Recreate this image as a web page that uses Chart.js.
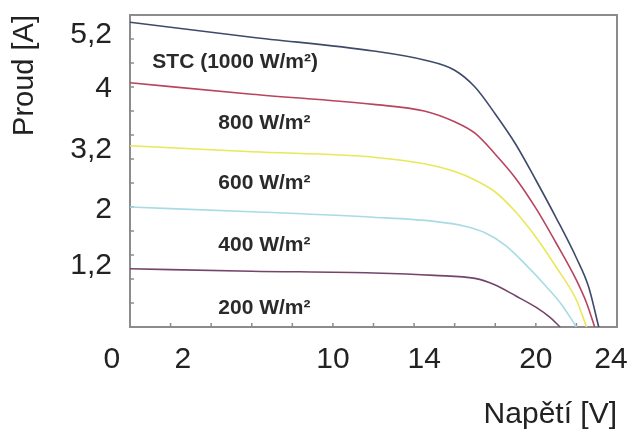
<!DOCTYPE html>
<html>
<head>
<meta charset="utf-8">
<script src="https://cdn.jsdelivr.net/npm/chart.js@4/dist/chart.umd.min.js"></script>
<style>
  html, body { margin: 0; padding: 0; background: #fff; }
  #wrap { width: 634px; height: 430px; }
</style>
</head>
<body>
<div id="wrap"><canvas id="iv-chart"></canvas></div>
<script>
// I-V křivky FV panelu při různém ozáření
const stcV = [0, 6, 12, 14.5, 16, 17, 18, 19, 20, 21, 22, 22.6, 23.1];
const stcI = [5.08, 4.83, 4.6, 4.45, 4.28, 4.0, 3.55, 3.05, 2.45, 1.82, 1.15, 0.67, 0];

const w800V = [0, 6, 12, 14.5, 16, 17, 18, 19, 20, 21, 22, 22.5, 22.9];
const w800I = [4.07, 3.88, 3.71, 3.6, 3.42, 3.23, 2.88, 2.48, 1.98, 1.4, 0.78, 0.4, 0];

const w600V = [0, 6, 12, 14.5, 16, 17, 18, 19, 20, 21, 22, 22.5];
const w600I = [3.02, 2.92, 2.83, 2.72, 2.59, 2.45, 2.25, 1.92, 1.5, 1.0, 0.45, 0];

const w400V = [0, 6, 12, 15, 16.5, 17.5, 18.5, 19.5, 20.5, 21.3, 22.0];
const w400I = [2.0, 1.92, 1.83, 1.76, 1.68, 1.57, 1.36, 1.04, 0.68, 0.36, 0];

const w200V = [0, 6, 12, 15, 17, 18, 19, 20, 20.7, 21.2];
const w200I = [0.97, 0.93, 0.9, 0.86, 0.81, 0.7, 0.52, 0.33, 0.16, 0];

const seriesNames = ['STC (1000 W/m²)', '800 W/m²', '600 W/m²', '400 W/m²', '200 W/m²'];

const xTickLabels = ['0', '2', '10', '14', '20', '24'];
const yTickLabels = ['5,2', '4', '3,2', '2', '1,2'];

// spojí napětí a proud do bodů
function toPoints(v, i) {
  return v.map((x, k) => ({ x: x, y: i[k] }));
}

const colors = ['#3e4a6a', '#b8445f', '#e8e85a', '#a9dbe4', '#74456a'];
const curves = [[stcV, stcI], [w800V, w800I], [w600V, w600I], [w400V, w400I], [w200V, w200I]];

const datasets = curves.map((c, k) => ({
  label: seriesNames[k],
  data: toPoints(c[0], c[1]),
  showLine: true,
  borderColor: colors[k],
  backgroundColor: colors[k],
  borderWidth: 1.6,
  pointRadius: 0,
  cubicInterpolationMode: 'monotone',
  fill: false
}));

// kde stojí popisky os v originále (v jednotkách os)
const xLabelAt = [-0.9, 2.6, 10, 14.5, 20, 23.7];
const yLabelAt = [4.87, 3.97, 2.95, 1.95, 1.02];

// rámeček, vnitřní značky a popisky křivek
const framePlugin = {
  id: 'frame',
  beforeDatasetsDraw(chart) {
    const { ctx, chartArea: a, scales: { x, y } } = chart;
    ctx.save();
    ctx.strokeStyle = '#8c8c8c';
    ctx.lineWidth = 1.5;
    for (let v = 2; v < 24; v += 2) {
      const px = x.getPixelForValue(v);
      ctx.beginPath();
      ctx.moveTo(px, a.bottom);
      ctx.lineTo(px, a.bottom - 4);
      ctx.stroke();
    }
    for (let k = 1; k < 13; k++) {
      const py = y.getPixelForValue(k * 0.4);
      ctx.beginPath();
      ctx.moveTo(a.left, py);
      ctx.lineTo(a.left + 4, py);
      ctx.stroke();
    }
    ctx.lineWidth = 2;
    ctx.strokeRect(a.left, a.top, a.right - a.left, a.bottom - a.top);
    ctx.restore();
  },
  afterDatasetsDraw(chart) {
    const { ctx, scales: { x, y } } = chart;
    const spots = [[1.1, 4.42], [4.35, 3.4], [4.35, 2.4], [4.35, 1.37], [4.35, 0.32]];
    ctx.save();
    ctx.fillStyle = '#2a2a2a';
    ctx.font = 'bold 21px "Liberation Sans", Arial, sans-serif';
    ctx.textAlign = 'left';
    ctx.textBaseline = 'middle';
    seriesNames.forEach((name, k) => {
      ctx.fillText(name, x.getPixelForValue(spots[k][0]), y.getPixelForValue(spots[k][1]));
    });
    ctx.restore();
  }
};

const ctx = document.getElementById('iv-chart').getContext('2d');
new Chart(ctx, {
  type: 'scatter',
  data: { datasets: datasets },
  plugins: [framePlugin],
  options: {
    responsive: true,
    maintainAspectRatio: false,
    animation: false,
    layout: { padding: { top: 15, right: 17, left: 0, bottom: 0 } },
    plugins: {
      legend: { display: false },
      tooltip: { enabled: false }
    },
    scales: {
      x: {
        type: 'linear',
        min: 0,
        max: 24,
        grid: { display: false, drawTicks: false },
        border: { display: false },
        afterBuildTicks: s => { s.ticks = xLabelAt.map(v => ({ value: v })); },
        afterFit: s => { s.height = 103; s.paddingLeft = 0; s.paddingRight = 0; },
        ticks: {
          autoSkip: false,
          maxRotation: 0,
          padding: 18,
          color: '#222',
          font: { family: '"Liberation Sans", Arial, sans-serif', size: 30, lineHeight: 1 },
          callback: (v, i) => xTickLabels[i]
        },
        title: {
          display: true,
          text: 'Napětí [V]',
          align: 'end',
          color: '#222',
          padding: { top: 0, bottom: 0 },
          font: { family: '"Liberation Sans", Arial, sans-serif', size: 30, lineHeight: 1 }
        }
      },
      y: {
        type: 'linear',
        min: 0,
        max: 5.2,
        grid: { display: false, drawTicks: false },
        border: { display: false },
        afterBuildTicks: s => { s.ticks = yLabelAt.map(v => ({ value: v })); },
        afterFit: s => { s.width = 130; s.paddingTop = 0; s.paddingBottom = 0; },
        ticks: {
          autoSkip: false,
          padding: 18,
          color: '#222',
          font: { family: '"Liberation Sans", Arial, sans-serif', size: 30, lineHeight: 1 },
          callback: (v, i) => yTickLabels[i]
        },
        title: {
          display: true,
          text: 'Proud [A]',
          align: 'end',
          color: '#222',
          padding: { top: 10, bottom: 0 },
          font: { family: '"Liberation Sans", Arial, sans-serif', size: 29, lineHeight: 1 }
        }
      }
    }
  }
});
</script>
</body>
</html>
